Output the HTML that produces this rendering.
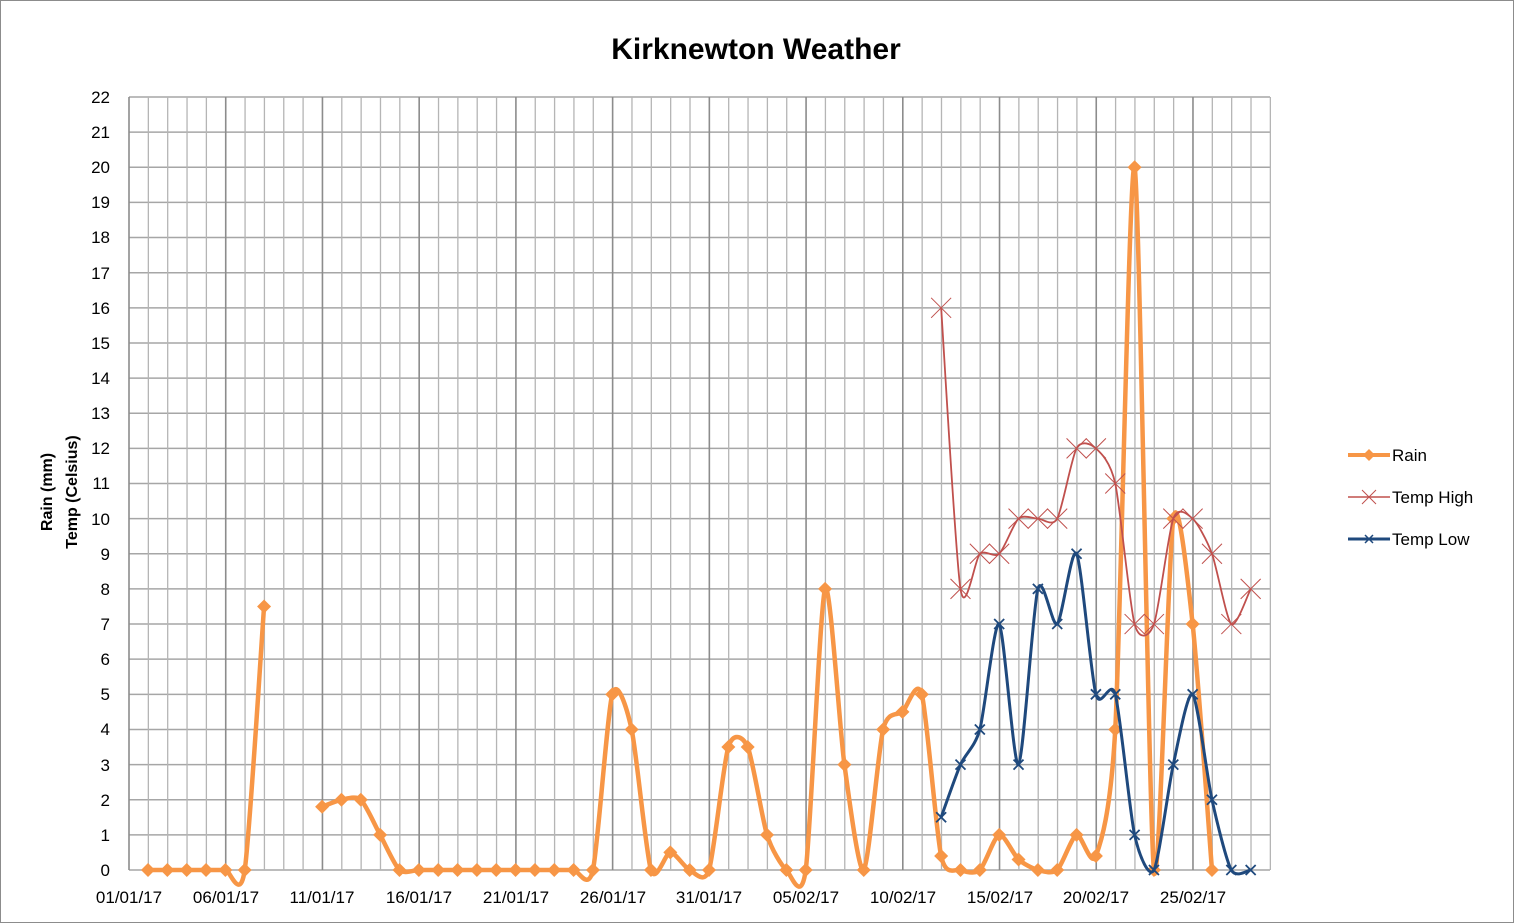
<!DOCTYPE html>
<html><head><meta charset="utf-8"><style>
html,body{margin:0;padding:0;background:#fff}
svg{display:block;font-family:"Liberation Sans",sans-serif}
</style></head><body>
<svg id="s" width="1514" height="923" viewBox="0 0 1514 923" xmlns="http://www.w3.org/2000/svg">
<rect x="0.5" y="0.5" width="1513" height="922" fill="#fff" stroke="#8c8c8c"/>
<g id="grid"></g>
<g id="series"></g>
<text x="756" y="59" text-anchor="middle" font-size="30" font-weight="bold">Kirknewton Weather</text>
<g font-size="17" text-anchor="end">
<text x="110" y="876">0</text><text x="110" y="841">1</text><text x="110" y="806">2</text><text x="110" y="771">3</text><text x="110" y="735">4</text><text x="110" y="700">5</text><text x="110" y="665">6</text><text x="110" y="630">7</text><text x="110" y="595">8</text><text x="110" y="560">9</text><text x="110" y="525">10</text><text x="110" y="489">11</text><text x="110" y="454">12</text><text x="110" y="419">13</text><text x="110" y="384">14</text><text x="110" y="349">15</text><text x="110" y="314">16</text><text x="110" y="279">17</text><text x="110" y="243">18</text><text x="110" y="208">19</text><text x="110" y="173">20</text><text x="110" y="138">21</text><text x="110" y="103">22</text>
</g>
<g font-size="17" text-anchor="middle">
<text x="129" y="903">01/01/17</text><text x="226" y="903">06/01/17</text><text x="322" y="903">11/01/17</text><text x="419" y="903">16/01/17</text><text x="516" y="903">21/01/17</text><text x="613" y="903">26/01/17</text><text x="709" y="903">31/01/17</text><text x="806" y="903">05/02/17</text><text x="903" y="903">10/02/17</text><text x="1000" y="903">15/02/17</text><text x="1096" y="903">20/02/17</text><text x="1193" y="903">25/02/17</text>
</g>
<g font-size="16" font-weight="bold" text-anchor="middle">
<text transform="translate(52,492) rotate(-90)">Rain (mm)</text>
<text transform="translate(77,492) rotate(-90)">Temp (Celsius)</text>
</g>
<g font-size="17">
<line x1="1348" y1="455" x2="1390" y2="455" stroke="#f79646" stroke-width="4"/>
<path d="M1369 449 L1375 455 L1369 461 L1363 455Z" fill="#f79646"/>
<text x="1392" y="461">Rain</text>
<line x1="1348" y1="497" x2="1390" y2="497" stroke="#c0504d" stroke-width="1.5"/>
<path d="M1362 490 L1376 504 M1376 490 L1362 504" stroke="#c0504d" stroke-width="1"/>
<text x="1392" y="503">Temp High</text>
<line x1="1348" y1="539" x2="1390" y2="539" stroke="#1f497d" stroke-width="3"/>
<path d="M1365 535 L1373 543 M1373 535 L1365 543" stroke="#1f497d" stroke-width="1.5"/>
<text x="1392" y="545">Temp Low</text>
</g>
</svg>
<script>
(function(){
var NS="http://www.w3.org/2000/svg";
var g=document.getElementById("grid"),s=document.getElementById("series");
function el(p,t,a){var e=document.createElementNS(NS,t);for(var k in a)e.setAttribute(k,a[k]);p.appendChild(e);return e;}
var X0=129,DX=19.345,Y0=870,DY=35.136;
for(var v=0;v<=22;v++){var y=Y0-v*DY;el(g,"line",{x1:X0,x2:1270,y1:y,y2:y,stroke:"#a6a6a6","stroke-width":1.5});}
for(var d=0;d<=59;d++){var x=X0+d*DX;el(g,"line",{x1:x,x2:x,y1:97,y2:Y0,stroke:d%5==0?"#8c8c8c":"#b5b5b5","stroke-width":d%5==0?1.6:1.3});}
function px(i){return 148+i*DX;} function py(v){return Y0-v*DY;}
function path(pts){var T=8;var d="M"+pts[0][0]+" "+pts[0][1];for(var i=0;i<pts.length-1;i++){var p0=pts[i-1]||pts[i],p1=pts[i],p2=pts[i+1],p3=pts[i+2]||p2;
var c1=[p1[0]+(p2[0]-p0[0])/T,p1[1]+(p2[1]-p0[1])/T],c2=[p2[0]-(p3[0]-p1[0])/T,p2[1]-(p3[1]-p1[1])/T];
d+=" C"+c1[0]+" "+c1[1]+" "+c2[0]+" "+c2[1]+" "+p2[0]+" "+p2[1];}return d;}
var rain=[0,0,0,0,0,0,7.5,null,null,1.8,2,2,1,0,0,0,0,0,0,0,0,0,0,0,5,4,0,0.5,0,0,3.5,3.5,1,0,0,8,3,0,4,4.5,5,0.4,0,0,1,0.3,0,0,1,0.4,4,20,0,10,7,0];
var hi=[16,8,9,9,10,10,10,12,12,11,7,7,10,10,9,7,8];
var lo=[1.5,3,4,7,3,8,7,9,5,5,1,0,3,5,2,0,0];
var segs=[],cur=[];rain.forEach(function(v,i){if(v===null){if(cur.length)segs.push(cur);cur=[];}else cur.push([px(i),py(v)]);});segs.push(cur);
segs.forEach(function(sg){el(s,"path",{d:path(sg),fill:"none",stroke:"#f79646","stroke-width":4.5,"stroke-linejoin":"round"});
sg.forEach(function(p){el(s,"path",{d:"M"+p[0]+" "+(p[1]-7)+" L"+(p[0]+7)+" "+p[1]+" L"+p[0]+" "+(p[1]+7)+" L"+(p[0]-7)+" "+p[1]+"Z",fill:"#f79646"});});});
var hp=hi.map(function(v,i){return [px(41+i),py(v)];});
el(s,"path",{d:path(hp),fill:"none",stroke:"#c0504d","stroke-width":1.8});
hp.forEach(function(p){el(s,"path",{d:"M"+(p[0]-10)+" "+(p[1]-10)+" L"+(p[0]+10)+" "+(p[1]+10)+" M"+(p[0]+10)+" "+(p[1]-10)+" L"+(p[0]-10)+" "+(p[1]+10),stroke:"#c0504d","stroke-width":1});});
var lp=lo.map(function(v,i){return [px(41+i),py(v)];});
el(s,"path",{d:path(lp),fill:"none",stroke:"#1f497d","stroke-width":3});
lp.forEach(function(p){el(s,"path",{d:"M"+(p[0]-5)+" "+(p[1]-5)+" L"+(p[0]+5)+" "+(p[1]+5)+" M"+(p[0]+5)+" "+(p[1]-5)+" L"+(p[0]-5)+" "+(p[1]+5),stroke:"#1f497d","stroke-width":1.8});});
})();
</script>
</body></html>
